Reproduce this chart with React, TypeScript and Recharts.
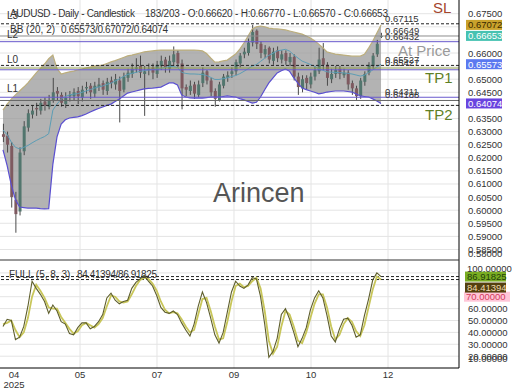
import React from "react";
import { ComposedChart, Bar, Area, Line, XAxis, YAxis, CartesianGrid, ReferenceLine } from "recharts";

// ~2-day candles (Apr -> Dec 2025)
const opens = [
  0.6290, 0.6285, 0.6245, 0.6040, 0.5995, 0.6225, 0.6315, 0.6365, 0.6390, 0.6380,
  0.6415, 0.6395, 0.6420, 0.6455, 0.6440, 0.6405, 0.6435, 0.6435, 0.6455, 0.6430,
  0.6465, 0.6475, 0.6445, 0.6470, 0.6485, 0.6455, 0.6495, 0.6480, 0.6495, 0.6460,
  0.6505, 0.6520, 0.6540, 0.6550, 0.6520, 0.6535, 0.6545, 0.6520, 0.6550, 0.6575,
  0.6540, 0.6565, 0.6600, 0.6560, 0.6470, 0.6455, 0.6480, 0.6440, 0.6485, 0.6530,
  0.6495, 0.6455, 0.6420, 0.6475, 0.6505, 0.6520, 0.6530, 0.6560, 0.6595, 0.6600,
  0.6640, 0.6685, 0.6635, 0.6595, 0.6620, 0.6570, 0.6610, 0.6575, 0.6600, 0.6565,
  0.6585, 0.6510, 0.6465, 0.6505, 0.6480, 0.6510, 0.6530, 0.6580, 0.6555, 0.6500,
  0.6520, 0.6540, 0.6515, 0.6525, 0.6485, 0.6465, 0.6435, 0.6490, 0.6525, 0.6550,
  0.6595, 0.66620,
];
const highs = [
  0.6330, 0.6300, 0.6260, 0.6070, 0.6240, 0.6340, 0.6385, 0.6400, 0.6410, 0.6425,
  0.6430, 0.6440, 0.6505, 0.6470, 0.6450, 0.6450, 0.6455, 0.6465, 0.6470, 0.6475,
  0.6490, 0.6485, 0.6490, 0.6505, 0.6495, 0.6505, 0.6510, 0.6520, 0.6510, 0.6525,
  0.6540, 0.6560, 0.6580, 0.6590, 0.6550, 0.6560, 0.6560, 0.6570, 0.6590, 0.6585,
  0.6590, 0.6625, 0.6610, 0.6575, 0.6480, 0.6495, 0.6490, 0.6495, 0.6545, 0.6535,
  0.6505, 0.6465, 0.6490, 0.6520, 0.6530, 0.6545, 0.6575, 0.6600, 0.6620, 0.6655,
  0.6707, 0.6690, 0.6645, 0.6630, 0.6625, 0.6620, 0.6625, 0.6610, 0.6610, 0.6600,
  0.6595, 0.6525, 0.6515, 0.6515, 0.6525, 0.6550, 0.6620, 0.6638, 0.6565, 0.6540,
  0.6550, 0.6550, 0.6540, 0.6535, 0.6495, 0.6475, 0.6505, 0.6530, 0.6565, 0.6600,
  0.6650, 0.66770,
];
const lows = [
  0.6260, 0.6220, 0.6010, 0.5914, 0.5980, 0.6210, 0.6300, 0.6350, 0.6360, 0.6365,
  0.6380, 0.6385, 0.6410, 0.6420, 0.6395, 0.6390, 0.6415, 0.6420, 0.6405, 0.6415,
  0.6445, 0.6425, 0.6430, 0.6455, 0.6440, 0.6440, 0.6465, 0.6460, 0.6335, 0.6450,
  0.6490, 0.6505, 0.6525, 0.6505, 0.6360, 0.6515, 0.6500, 0.6505, 0.6535, 0.6525,
  0.6525, 0.6550, 0.6545, 0.6385, 0.6435, 0.6440, 0.6425, 0.6430, 0.6470, 0.6480,
  0.6435, 0.6395, 0.6415, 0.6465, 0.6490, 0.6505, 0.6515, 0.6545, 0.6580, 0.6590,
  0.6625, 0.6615, 0.6580, 0.6580, 0.6560, 0.6555, 0.6565, 0.6560, 0.6555, 0.6550,
  0.6495, 0.6440, 0.6450, 0.6460, 0.6465, 0.6495, 0.6520, 0.6535, 0.6475, 0.6485,
  0.6505, 0.6500, 0.6505, 0.6460, 0.6440, 0.6421, 0.6425, 0.6475, 0.6515, 0.6540,
  0.6585, 0.66570,
];
const closes = [
  0.6280, 0.6250, 0.6050, 0.5985, 0.6220, 0.6320, 0.6370, 0.6380, 0.6385, 0.6410,
  0.6400, 0.6420, 0.6450, 0.6445, 0.6410, 0.6430, 0.6440, 0.6450, 0.6435, 0.6460,
  0.6470, 0.6450, 0.6475, 0.6480, 0.6460, 0.6490, 0.6485, 0.6500, 0.6455, 0.6510,
  0.6525, 0.6540, 0.6545, 0.6525, 0.6530, 0.6540, 0.6525, 0.6555, 0.6570, 0.6545,
  0.6570, 0.6595, 0.6560, 0.6465, 0.6460, 0.6475, 0.6445, 0.6480, 0.6525, 0.6495,
  0.6450, 0.6425, 0.6480, 0.6510, 0.6515, 0.6530, 0.6565, 0.6590, 0.6605, 0.6640,
  0.6680, 0.6635, 0.6600, 0.6615, 0.6575, 0.6605, 0.6580, 0.6595, 0.6570, 0.6585,
  0.6510, 0.6470, 0.6500, 0.6485, 0.6510, 0.6535, 0.6575, 0.6555, 0.6505, 0.6520,
  0.6535, 0.6520, 0.6525, 0.6480, 0.6465, 0.6435, 0.6495, 0.6520, 0.6555, 0.6590,
  0.6635, 0.66653,
];

// Bollinger (20, 2)
const bbUpper = [
  0.6382, 0.6405, 0.6424, 0.6440, 0.6455, 0.6470, 0.6486, 0.6505, 0.6524, 0.6541,
  0.6558, 0.6578, 0.6592, 0.6540, 0.6520, 0.6524, 0.6528, 0.6531, 0.6535, 0.6539,
  0.6543, 0.6546, 0.6550, 0.6552, 0.6554, 0.6560, 0.6566, 0.6571, 0.6577, 0.6583,
  0.6589, 0.6592, 0.6596, 0.6600, 0.6604, 0.6606, 0.6608, 0.6610, 0.6611, 0.6611,
  0.6611, 0.6611, 0.6611, 0.6611, 0.6611, 0.6611, 0.6611, 0.6610, 0.6608, 0.6598,
  0.6581, 0.6565, 0.6566, 0.6570, 0.6573, 0.6585, 0.6596, 0.6615, 0.6638, 0.6665,
  0.6692, 0.6700, 0.6703, 0.6700, 0.6695, 0.6693, 0.6692, 0.6690, 0.6688, 0.6684,
  0.6680, 0.6676, 0.6672, 0.6665, 0.6657, 0.6647, 0.6634, 0.6620, 0.6604, 0.6600,
  0.6596, 0.6594, 0.6592, 0.6590, 0.6588, 0.6588, 0.6588, 0.6595, 0.6619, 0.6645,
  0.6676, 0.67072,
];
const bbMid = [
  0.6306, 0.6288, 0.6260, 0.6240, 0.6234, 0.6240, 0.6247, 0.6257, 0.6266, 0.6274,
  0.6281, 0.6292, 0.6382, 0.6405, 0.6424, 0.6434, 0.6440, 0.6443, 0.6445, 0.6450,
  0.6455, 0.6460, 0.6466, 0.6470, 0.6474, 0.6480, 0.6485, 0.6493, 0.6501, 0.6510,
  0.6518, 0.6522, 0.6526, 0.6530, 0.6533, 0.6535, 0.6537, 0.6539, 0.6541, 0.6545,
  0.6548, 0.6548, 0.6545, 0.6526, 0.6522, 0.6520, 0.6520, 0.6519, 0.6518, 0.6514,
  0.6507, 0.6499, 0.6499, 0.6502, 0.6505, 0.6510, 0.6514, 0.6521, 0.6530, 0.6540,
  0.6550, 0.6556, 0.6568, 0.6580, 0.6591, 0.6599, 0.6608, 0.6611, 0.6614, 0.6607,
  0.6593, 0.6581, 0.6569, 0.6563, 0.6556, 0.6549, 0.6539, 0.6534, 0.6528, 0.6527,
  0.6526, 0.6525, 0.6524, 0.6522, 0.6520, 0.6516, 0.6512, 0.6515, 0.6526, 0.6535,
  0.6547, 0.65573,
];
const bbLower = [
  0.6230, 0.6170, 0.6096, 0.6040, 0.6012, 0.6010, 0.6008, 0.6008, 0.6008, 0.6006,
  0.6005, 0.6006, 0.6175, 0.6280, 0.6329, 0.6345, 0.6352, 0.6354, 0.6356, 0.6361,
  0.6367, 0.6375, 0.6382, 0.6388, 0.6394, 0.6400, 0.6405, 0.6415, 0.6424, 0.6436,
  0.6447, 0.6451, 0.6455, 0.6459, 0.6463, 0.6465, 0.6466, 0.6468, 0.6470, 0.6478,
  0.6486, 0.6486, 0.6478, 0.6440, 0.6432, 0.6429, 0.6428, 0.6428, 0.6428, 0.6430,
  0.6432, 0.6432, 0.6432, 0.6434, 0.6436, 0.6434, 0.6432, 0.6426, 0.6421, 0.6415,
  0.6409, 0.6412, 0.6432, 0.6460, 0.6486, 0.6505, 0.6524, 0.6532, 0.6539, 0.6530,
  0.6505, 0.6485, 0.6466, 0.6460, 0.6455, 0.6450, 0.6444, 0.6447, 0.6451, 0.6453,
  0.6455, 0.6455, 0.6455, 0.6453, 0.6451, 0.6444, 0.6436, 0.6434, 0.6432, 0.6425,
  0.6417, 0.64074,
];

// Full stochastic (5, 8, 3)
const stochK = [
  45, 51, 50, 34, 36, 45, 62, 83, 77, 72,
  66, 56, 63, 58, 49, 47, 39, 38, 44, 48,
  48, 43, 45, 49, 55, 69, 73, 67, 64, 66,
  67, 77, 82, 85, 88, 83, 79, 71, 61, 57,
  56, 58, 55, 48, 42, 37, 47, 62, 74, 65,
  52, 38, 31, 40, 57, 74, 83, 79, 77, 80,
  86, 85, 70, 47, 19, 24, 35, 55, 60, 51,
  40, 28, 35, 44, 59, 69, 75, 69, 54, 37,
  32, 43, 51, 52, 46, 36, 38, 54, 68, 84,
  90, 86.91825,
];
const stochD = [
  47, 48, 50, 42, 36, 40, 52, 70, 80, 75,
  69, 61, 60, 60, 53, 48, 43, 39, 41, 46,
  48, 46, 44, 47, 52, 62, 71, 70, 66, 65,
  66, 72, 79, 84, 86, 85, 81, 75, 66, 59,
  56, 57, 56, 51, 45, 40, 42, 55, 68, 69,
  58, 45, 34, 35, 49, 66, 79, 81, 78, 79,
  83, 86, 77, 58, 33, 22, 28, 45, 58, 55,
  45, 33, 31, 40, 52, 64, 72, 72, 61, 45,
  34, 38, 47, 52, 49, 41, 37, 46, 61, 76,
  87, 84.41394,
];

const dateTicks = [2.65, 18.54, 37.07, 55.6, 74.15, 92.68];
const dateLabels = ["04", "05", "07", "09", "10", "12"];

const priceTicks = [0.675, 0.66, 0.65, 0.645, 0.635, 0.63, 0.625, 0.62, 0.615, 0.61, 0.605, 0.6, 0.595, 0.59, 0.585];
const priceGrid = [0.675, 0.67, 0.665, 0.66, 0.655, 0.65, 0.645, 0.64, 0.635, 0.63, 0.625, 0.62, 0.615, 0.61, 0.605, 0.6, 0.595, 0.59, 0.585];
const stochTicks = [60, 50, 40, 30, 20];
const stochGrid = [90, 80, 70, 60, 50, 40, 30, 20];

// support / resistance levels
const levelValues = [0.67115, 0.66649, 0.66432, 0.65527, 0.65427, 0.6536, 0.64311, 0.64188, 0.6400];
const levelLabels = ["0.67115", "0.66649", "0.66432", "0.65527", "0.65427", "", "0.64311", "0.64188", ""];
const levelColors = ["#222", "#8c8c8c", "#6a5acd", "#222", "#8c9a4c", "#6a5acd", "#6a5acd", "#666", "#222"];
const levelDashed = [true, false, false, true, false, false, false, false, true];

const X_DOMAIN: [number, number] = [-0.722, 109.77];
const PRICE_DOMAIN: [number, number] = [0.58099, 0.68023];
const STOCH_DOMAIN: [number, number] = [10.08, 100.84];

const priceData = closes.map((c, i) => ({
  i,
  open: opens[i],
  high: highs[i],
  low: lows[i],
  close: c,
  bbU: bbUpper[i],
  bbM: bbMid[i],
  bbL: bbLower[i],
}));
const stochData = stochK.map((k, i) => ({ i, k, d: stochD[i] }));

const last = priceData[priceData.length - 1];
const FONT = '"Liberation Sans", Arial, sans-serif';

function Candle(props: any) {
  const { x, y, width, height, payload } = props;
  if (!payload || payload.open == null || x == null) return null;
  const { open, high, low, close } = payload;
  const top = Math.min(y, y + height);
  const h = Math.abs(height);
  const k = high > low ? h / (high - low) : 0;
  const cx = x + width / 2;
  const bodyTop = top + (high - Math.max(open, close)) * k;
  const bodyH = Math.max(1, Math.abs(close - open) * k);
  const up = close >= open;
  return (
    <g>
      <line x1={cx} x2={cx} y1={top} y2={top + h} stroke="#4a4a4a" strokeWidth={1} />
      <rect x={cx - 1.5} y={bodyTop} width={3} height={bodyH} fill={up ? "#52766e" : "#7e5a60"} />
    </g>
  );
}

function AxisBox({ viewBox, text, bg, fg, w = 36, dy = 0, x0 = 466 }: any) {
  const y = (viewBox?.y ?? 0) + dy;
  return (
    <g>
      <rect x={x0} y={y - 5} width={w} height={10} fill={bg} />
      <text x={x0 + 2} y={y + 3.5} fontSize={9.5} fill={fg} fontFamily={FONT}>
        {text}
      </text>
    </g>
  );
}

function LevelText({ viewBox, text }: any) {
  if (!text) return null;
  return (
    <text x={385} y={(viewBox?.y ?? 0) - 2} fontSize={9.5} fill="#333" fontFamily={FONT}>
      {text}
    </text>
  );
}

const ValueTick = (p: any) => (
  <text x={p.x} y={p.y + 3.5} fontSize={9.5} fill="#333" fontFamily={FONT}>
    {Number(p.payload.value).toFixed(5)}
  </text>
);

const DateTick = (p: any) => {
  const idx = dateTicks.indexOf(p.payload.value);
  return (
    <g fontFamily={FONT} fontSize={9.5} fill="#333">
      <text x={p.x} y={p.y + 2} textAnchor="middle">
        {dateLabels[idx]}
      </text>
      {idx === 0 && (
        <text x={p.x} y={p.y + 11.5} textAnchor="middle">
          2025
        </text>
      )}
    </g>
  );
};

export default function App() {
  return (
    <div style={{ position: "absolute", left: 0, top: 0, width: 520, height: 390, background: "#fff", fontFamily: FONT }}>
      <div style={{ position: "absolute", left: 0, top: 0 }}>
        <ComposedChart width={520} height={260} data={priceData} margin={{ top: 0, right: 0, bottom: 0, left: 0 }}>
          <CartesianGrid stroke="#e4e4e4" horizontalValues={priceGrid} verticalValues={dateTicks.slice(1)} />
          <XAxis dataKey="i" type="number" domain={X_DOMAIN} allowDataOverflow hide />
          <YAxis
            orientation="right"
            width={61}
            type="number"
            domain={PRICE_DOMAIN}
            allowDataOverflow
            ticks={priceTicks}
            interval={0}
            tickLine={false}
            tickSize={6}
            tickMargin={3}
            tick={ValueTick}
            axisLine={{ stroke: "#000" }}
          />
          <Area
            dataKey={(d: any) => [d.bbL, d.bbU]}
            stroke="none"
            fill="#9a9a9a"
            fillOpacity={0.75}
            dot={false}
            activeDot={false}
            isAnimationActive={false}
          />
          <Line dataKey="bbM" stroke="#5c9db5" strokeWidth={1} dot={false} activeDot={false} isAnimationActive={false} />
          <Bar
            dataKey={(d: any) => [d.low, d.high]}
            barSize={3}
            shape={(p: any) => <Candle {...p} />}
            isAnimationActive={false}
          />
          <Line dataKey="bbU" stroke="#bcae7c" strokeWidth={1.2} dot={false} activeDot={false} isAnimationActive={false} />
          <Line dataKey="bbL" stroke="#5a4fd0" strokeWidth={1.2} dot={false} activeDot={false} isAnimationActive={false} />
          {levelValues.map((v, n) => (
            <ReferenceLine
              key={"lv" + n}
              y={v}
              stroke={levelColors[n]}
              strokeWidth={1}
              strokeDasharray={levelDashed[n] ? "3 2" : undefined}
              label={<LevelText text={levelLabels[n]} />}
            />
          ))}
          <ReferenceLine y={last.bbU} stroke="none" label={<AxisBox text={last.bbU.toFixed(5)} bg="#c9a22c" fg="#3a2a00" />} />
          <ReferenceLine y={last.close} stroke="none" label={<AxisBox text={last.close.toFixed(5)} bg="#46c2b1" fg="#fff" />} />
          <ReferenceLine y={last.bbM} stroke="none" label={<AxisBox text={last.bbM.toFixed(5)} bg="#5b79f0" fg="#fff" />} />
          <ReferenceLine y={last.bbL} stroke="none" label={<AxisBox text={last.bbL.toFixed(5)} bg="#6944df" fg="#fff" />} />
        </ComposedChart>
      </div>
      <div style={{ position: "absolute", left: 0, top: 260 }}>
        <ComposedChart width={520} height={130} data={stochData} margin={{ top: 0, right: 0, bottom: 0, left: 0 }}>
          <CartesianGrid stroke="#e4e4e4" horizontalValues={stochGrid} verticalValues={dateTicks.slice(1)} />
          <XAxis
            dataKey="i"
            type="number"
            domain={X_DOMAIN}
            allowDataOverflow
            ticks={dateTicks}
            interval={0}
            height={22}
            tickLine={false}
            tick={DateTick}
            axisLine={{ stroke: "#000" }}
          />
          <YAxis
            orientation="right"
            width={61}
            type="number"
            domain={STOCH_DOMAIN}
            allowDataOverflow
            ticks={stochTicks}
            interval={0}
            tickLine={false}
            tickSize={6}
            tickMargin={3}
            tick={ValueTick}
            axisLine={{ stroke: "#000" }}
          />
          <ReferenceLine y={stochK[stochK.length - 1]} stroke="#222" strokeDasharray="3 2" />
          <ReferenceLine y={stochD[stochD.length - 1]} stroke="#222" strokeDasharray="3 2" />
          <Line dataKey="d" stroke="#c8c65a" strokeWidth={1.8} dot={false} activeDot={false} isAnimationActive={false} />
          <Line dataKey="k" stroke="#5e5e2c" strokeWidth={1.1} dot={false} activeDot={false} isAnimationActive={false} />
          <ReferenceLine y={70} stroke="none" label={<AxisBox text="70.00000" bg="#ffc6d8" fg="#d23a5a" w={46} x0={464} />} />
          <ReferenceLine
            y={stochK[stochK.length - 1]}
            stroke="none"
            label={<AxisBox text={stochK[stochK.length - 1].toFixed(5)} bg="#79ad22" fg="#22400a" w={41} x0={465} />}
          />
          <ReferenceLine
            y={stochD[stochD.length - 1]}
            stroke="none"
            label={<AxisBox text={stochD[stochD.length - 1].toFixed(5)} bg="#54400f" fg="#f0dcb0" w={41} x0={465} dy={8} />}
          />
        </ComposedChart>
      </div>
      <svg width={520} height={390} style={{ position: "absolute", left: 0, top: 0, pointerEvents: "none" }} fontFamily={FONT}>
        <text y={16.5} fontSize={10} fill="#333">
          <tspan x={10} textLength={125}>AUDUSD - Daily - Candlestick</tspan>
          <tspan x={145} textLength={243}>183/203 - O:0.66620 - H:0.66770 - L:0.66570 - C:0.66653</tspan>
        </text>
        <text y={33} fontSize={10} fill="#333">
          <tspan x={10}>BB (20, 2)</tspan>
          <tspan x={61} textLength={107}>0.65573/0.67072/0.64074</tspan>
        </text>
        <g fontSize={10} fill="#333">
          <text x={7} y={18.5}>L3</text>
          <text x={7} y={38}>L2</text>
          <text x={7} y={63}>L0</text>
          <text x={7} y={92}>L1</text>
        </g>
        <text x={433} y={13} fontSize={15} fill="#a3452c">SL</text>
        <text x={398} y={56} fontSize={15} fill="#9a9a9a">At Price</text>
        <text x={425} y={83} fontSize={15} fill="#5f7f25">TP1</text>
        <text x={425} y={120} fontSize={15} fill="#5f7f25">TP2</text>
        <text x={213} y={202} fontSize={27} fill="#555">Arincen</text>
        <line x1={0} x2={459} y1={260} y2={260} stroke="#333" strokeWidth={1} />
        <g fontSize={9.5} fill="#333">
          <text x={468} y={256.5}>0.58000</text>
          <text x={467} y={271.5}>100.00000</text>
          <text x={468} y={362}>10.00000</text>
        </g>
        <text y={277.5} fontSize={10} fill="#333">
          <tspan x={9}>FULL (5, 8, 3)</tspan>
          <tspan x={77} textLength={80}>84.41394/86.91825</tspan>
        </text>
      </svg>
    </div>
  );
}
